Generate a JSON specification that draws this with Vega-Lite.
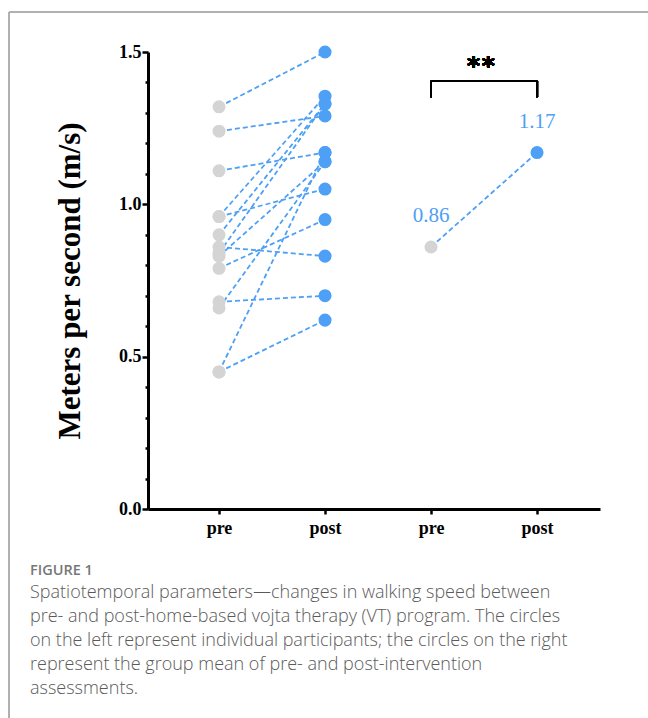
{
  "$schema": "https://vega.github.io/schema/vega-lite/v6.json",
  "width": 452,
  "height": 457,
  "autosize": "none",
  "padding": {"left": 148, "top": 52, "right": 48, "bottom": 209},
  "background": "white",
  "config": {"view": {"stroke": null}, "axis": {"grid": false}},
  "title": {
    "text": "FIGURE 1",
    "subtitle": [
      "Spatiotemporal parameters\u2014changes in walking speed between",
      "pre- and post-home-based vojta therapy (VT) program. The circles",
      "on the left represent individual participants; the circles on the right",
      "represent the group mean of pre- and post-intervention",
      "assessments."
    ],
    "orient": "bottom",
    "anchor": "start",
    "frame": "group",
    "dx": -118,
    "offset": -156,
    "font": "Open Sans",
    "fontSize": 14.5,
    "fontWeight": 600,
    "color": "#777777",
    "subtitleFont": "Open Sans",
    "subtitleFontSize": 18,
    "subtitleFontWeight": 300,
    "subtitleColor": "#5a5a5a",
    "subtitleLineHeight": 24,
    "subtitlePadding": 6
  },
  "data": {
    "values": [
      {"id": 1, "group": "ind", "phase": "pre", "x": 1, "v": 1.32},
      {"id": 1, "group": "ind", "phase": "post", "x": 2, "v": 1.50},
      {"id": 2, "group": "ind", "phase": "pre", "x": 1, "v": 1.24},
      {"id": 2, "group": "ind", "phase": "post", "x": 2, "v": 1.29},
      {"id": 3, "group": "ind", "phase": "pre", "x": 1, "v": 1.11},
      {"id": 3, "group": "ind", "phase": "post", "x": 2, "v": 1.17},
      {"id": 4, "group": "ind", "phase": "pre", "x": 1, "v": 0.96},
      {"id": 4, "group": "ind", "phase": "post", "x": 2, "v": 1.05},
      {"id": 5, "group": "ind", "phase": "pre", "x": 1, "v": 0.96},
      {"id": 5, "group": "ind", "phase": "post", "x": 2, "v": 1.355},
      {"id": 6, "group": "ind", "phase": "pre", "x": 1, "v": 0.90},
      {"id": 6, "group": "ind", "phase": "post", "x": 2, "v": 1.33},
      {"id": 7, "group": "ind", "phase": "pre", "x": 1, "v": 0.86},
      {"id": 7, "group": "ind", "phase": "post", "x": 2, "v": 0.83},
      {"id": 8, "group": "ind", "phase": "pre", "x": 1, "v": 0.83},
      {"id": 8, "group": "ind", "phase": "post", "x": 2, "v": 1.14},
      {"id": 9, "group": "ind", "phase": "pre", "x": 1, "v": 0.79},
      {"id": 9, "group": "ind", "phase": "post", "x": 2, "v": 0.95},
      {"id": 10, "group": "ind", "phase": "pre", "x": 1, "v": 0.68},
      {"id": 10, "group": "ind", "phase": "post", "x": 2, "v": 0.70},
      {"id": 11, "group": "ind", "phase": "pre", "x": 1, "v": 0.66},
      {"id": 11, "group": "ind", "phase": "post", "x": 2, "v": 1.14},
      {"id": 12, "group": "ind", "phase": "pre", "x": 1, "v": 0.45},
      {"id": 12, "group": "ind", "phase": "post", "x": 2, "v": 0.62},
      {"id": 13, "group": "ind", "phase": "pre", "x": 1, "v": 0.45},
      {"id": 13, "group": "ind", "phase": "post", "x": 2, "v": 1.17},
      {"id": 14, "group": "ind", "phase": "pre", "x": 1, "v": 0.84},
      {"id": 14, "group": "ind", "phase": "post", "x": 2, "v": 1.33},
      {"id": 99, "group": "mean", "phase": "pre", "x": 3, "v": 0.86},
      {"id": 99, "group": "mean", "phase": "post", "x": 4, "v": 1.17}
    ]
  },
  "encoding": {
    "x": {
      "field": "x",
      "type": "quantitative",
      "scale": {"domain": [0.33, 4.594], "nice": false, "zero": false},
      "axis": {
        "values": [1, 2, 3, 4],
        "labelExpr": "datum.value % 2 == 1 ? 'pre' : 'post'",
        "title": null,
        "domainColor": "black",
        "domainWidth": 3,
        "tickColor": "black",
        "tickWidth": 2.5,
        "tickSize": 5,
        "labelFont": "Liberation Serif",
        "labelFontWeight": "bold",
        "labelFontSize": 18,
        "labelColor": "black",
        "labelPadding": 5
      }
    },
    "y": {
      "field": "v",
      "type": "quantitative",
      "scale": {"domain": [0, 1.5], "nice": false, "zero": true},
      "axis": {
        "values": [0, 0.1, 0.2, 0.3, 0.4, 0.5, 0.6, 0.7, 0.8, 0.9, 1.0, 1.1, 1.2, 1.3, 1.4, 1.5],
        "labelExpr": "abs(datum.value*2 - round(datum.value*2)) < 0.001 ? format(datum.value, '.1f') : ''",
        "tickSize": {"condition": {"test": "abs(datum.value*2 - round(datum.value*2)) < 0.001", "value": 6}, "value": 3},
        "title": "Meters per second (m/s)",
        "titleFont": "Liberation Serif",
        "titleFontSize": 31,
        "titleFontWeight": "bold",
        "titleColor": "black",
        "titlePadding": 32,
        "domainColor": "black",
        "domainWidth": 3,
        "tickColor": "black",
        "tickWidth": 2.5,
        "labelFont": "Liberation Serif",
        "labelFontWeight": "bold",
        "labelFontSize": 18,
        "labelColor": "black",
        "labelPadding": 1
      }
    }
  },
  "layer": [
    {
      "transform": [{"filter": "datum.group == 'ind'"}],
      "mark": {"type": "line", "color": "#4da0f5", "strokeWidth": 1.8, "strokeDash": [5, 3]},
      "encoding": {"detail": {"field": "id", "type": "nominal"}}
    },
    {
      "transform": [{"filter": "datum.group == 'mean'"}],
      "mark": {"type": "line", "color": "#4da0f5", "strokeWidth": 1.8, "strokeDash": [5, 3]},
      "encoding": {"detail": {"field": "id", "type": "nominal"}}
    },
    {
      "mark": {"type": "circle", "size": 170, "opacity": 1},
      "encoding": {
        "color": {
          "field": "phase",
          "type": "nominal",
          "scale": {"domain": ["pre", "post"], "range": ["#d4d4d4", "#4da0f5"]},
          "legend": null
        }
      }
    },
    {
      "transform": [{"filter": "datum.group == 'mean'"}],
      "mark": {"type": "text", "font": "Liberation Serif", "fontSize": 21, "color": "#4da0f5", "dy": -31, "baseline": "middle"},
      "encoding": {"text": {"field": "v", "type": "quantitative", "format": ".2f"}}
    },
    {
      "mark": {"type": "rule", "color": "black", "strokeWidth": 2},
      "encoding": {"x": {"datum": 3}, "x2": {"datum": 4}, "y": {"datum": 1.405}}
    },
    {
      "mark": {"type": "rule", "color": "black", "strokeWidth": 2},
      "encoding": {"x": {"datum": 3}, "y": {"datum": 1.405}, "y2": {"datum": 1.352}}
    },
    {
      "mark": {"type": "rule", "color": "black", "strokeWidth": 2},
      "encoding": {"x": {"datum": 4}, "y": {"datum": 1.405}, "y2": {"datum": 1.352}}
    },
    {
      "mark": {"type": "text", "text": "*", "font": "DejaVu Sans", "fontSize": 25, "fontWeight": "bold", "color": "black", "baseline": "alphabetic", "align": "center"},
      "encoding": {"x": {"datum": 3.4}, "y": {"datum": 1.428}}
    },
    {
      "mark": {"type": "text", "text": "*", "font": "DejaVu Sans", "fontSize": 25, "fontWeight": "bold", "color": "black", "baseline": "alphabetic", "align": "center"},
      "encoding": {"x": {"datum": 3.54}, "y": {"datum": 1.428}}
    },
    {
      "mark": {"type": "rule", "color": "#b0b0b0", "strokeWidth": 1},
      "encoding": {"x": {"datum": -0.981}, "x2": {"datum": 5.1}, "y": {"datum": 1.631}}
    },
    {
      "mark": {"type": "rule", "color": "#b0b0b0", "strokeWidth": 1},
      "encoding": {"x": {"datum": -0.981}, "y": {"datum": 1.631}, "y2": {"datum": -0.69}}
    }
  ]
}
